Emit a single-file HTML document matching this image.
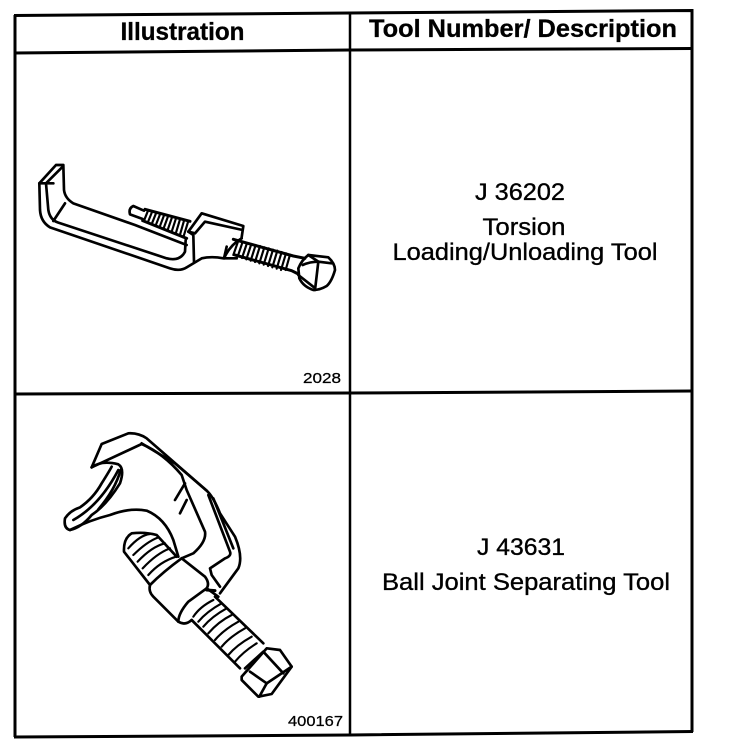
<!DOCTYPE html>
<html><head><meta charset="utf-8"><style>
html,body{margin:0;padding:0;background:#fff;width:736px;height:748px;overflow:hidden}
svg{display:block}
text{font-family:"Liberation Sans",sans-serif;fill:#000}
.l{fill:none;stroke:#000;stroke-linecap:round;stroke-linejoin:round}
</style></head><body>
<svg width="736" height="748" viewBox="0 0 736 748" xmlns="http://www.w3.org/2000/svg">
<rect width="736" height="748" fill="#fff"/>
<g fill="none" stroke="#000" stroke-width="3">
<path d="M15 15 L15 737"/>
<path d="M14 15.500 L350 13 L692 10.500 L692 732"/>
<path d="M14 53 L350 50 L692 48.500"/>
<path d="M350 12 L350 736" stroke-width="2.500"/>
<path d="M14 394 L350 393 L692 391"/>
<path d="M14 737 L350 735 L693 731.500"/>
</g>
<g text-anchor="middle">
<text x="182.500" y="40" font-size="25" font-weight="bold" stroke="#000" stroke-width=".3" textLength="124" lengthAdjust="spacingAndGlyphs">Illustration</text>
<text x="523" y="37" font-size="25" font-weight="bold" stroke="#000" stroke-width=".3" textLength="308" lengthAdjust="spacingAndGlyphs">Tool Number/ Description</text>
<g stroke="#000" stroke-width=".35" font-size="24">
<text x="520" y="200" textLength="90" lengthAdjust="spacingAndGlyphs">J 36202</text>
<text x="524" y="235" textLength="83" lengthAdjust="spacingAndGlyphs">Torsion</text>
<text x="525" y="260" textLength="265" lengthAdjust="spacingAndGlyphs">Loading/Unloading Tool</text>
<text x="521" y="555" textLength="88" lengthAdjust="spacingAndGlyphs">J 43631</text>
<text x="526" y="590" textLength="288" lengthAdjust="spacingAndGlyphs">Ball Joint Separating Tool</text>
</g>
</g>
<text x="322" y="383" font-size="15" stroke="#000" stroke-width=".25" text-anchor="middle" textLength="38" lengthAdjust="spacingAndGlyphs">2028</text>
<text x="315.500" y="726" font-size="15" stroke="#000" stroke-width=".25" text-anchor="middle" textLength="55" lengthAdjust="spacingAndGlyphs">400167</text>

<!-- C clamp tool -->
<g transform="translate(20,150) scale(.33333)">
<g class="l" stroke-width="8">
<path d="M58 100 L60 180 Q62 215 90 232 L450 355 Q480 365 500 352 L545 325 Q575 318 610 325"/>
<path d="M58 100 L108 45 L130 45 L132 120 Q135 145 160 160 L345 225 L500 285"/>
<path d="M58 100 L78 100 L128 50"/>
<path d="M78 100 L100 100"/>
<path d="M78 100 L85 180 Q90 210 115 218 L440 325 Q480 335 495 305 L497 270"/>
<path d="M100 213 L135 160"/>
<path d="M505 245 L545 190 L670 228 L665 262"/>
<path d="M505 245 L525 250 L555 215 L668 240"/>
<path d="M505 245 L520 255 L522 335"/>
<path d="M620 290 L612 325 L650 325"/>
<path d="M612 325 Q630 285 665 265"/>
<path d="M372 182 L340 168 Q325 175 330 193 L368 207"/>
<path d="M375 178 L510 214" stroke-width="9"/>
<path d="M368 212 L500 265" stroke-width="9"/>
<path d="M640 268 L820 318 L855 325" stroke-width="9"/>
<path d="M645 315 L815 362 L835 372" stroke-width="9"/>
<path d="M835 355 Q845 330 865 315 L925 322 Q945 340 945 360 Q935 395 920 408 Q900 420 880 420 Q850 410 838 385 Z"/>
<path d="M848 345 Q870 335 895 335 L935 340"/>
<path d="M865 315 L895 335 L885 420"/>
<path d="M835 375 L882 412"/>
</g>
<g class="l" stroke-width="6.500">
<path d="M384 182 L372 212M396 186 L384 216M408 190 L396 220M420 193 L408 224M432 196 L420 228M444 199 L432 232M456 202 L444 237M468 205 L456 242M480 208 L468 248M492 212 L480 254M504 216 L490 262"/>
<path d="M655 272 L640 315M668 275 L653 320M681 279 L666 324M694 282 L679 328M707 285 L692 332M720 288 L705 336M733 292 L718 340M746 295 L731 344M759 299 L744 348M772 302 L757 352M785 306 L770 356M798 310 L783 360M810 314 L797 360"/>
</g>
</g>

<!-- Ball joint tool -->
<g transform="translate(50,420) scale(.33333)">
<g class="l" stroke-width="8">
<path d="M125 142 L155 72 L235 40 Q265 38 290 55 L470 212 Q490 230 510 280 L555 350 Q580 410 565 445 L510 520"/>
<path d="M125 142 Q155 120 205 133 Q225 145 210 190 Q170 255 125 285 Q95 322 60 330 Q40 325 45 295 Q60 272 90 262 Q130 235 155 190 Q180 150 185 140"/>
<path d="M125 142 L275 72 Q340 100 395 165 L410 210 L465 335 Q470 365 430 400 L395 415"/>
<path d="M275 70 L375 130 L470 212"/>
<path d="M405 190 L375 240"/>
<path d="M410 240 L390 280"/>
<path d="M60 330 Q120 300 180 285 Q240 262 290 272 Q345 295 370 360 L385 410"/>
<path d="M70 300 Q150 255 205 150"/>
<path d="M145 268 Q195 210 212 150"/>
<path d="M475 225 L540 395 Q545 408 525 415 L480 445 L485 465 L510 500"/>
<path d="M490 235 L550 385"/>
<path d="M395 415 L465 470 Q480 490 470 505 L415 545 Q385 580 385 605"/>
<path d="M395 415 Q340 455 300 495 Q295 515 310 530 L385 605 Q405 618 425 600"/>
<path d="M470 505 L505 530"/>
<path d="M470 510 L495 512" stroke-width="9"/>
<path d="M300 495 L222 395 Q220 355 245 340 Q285 335 320 345 L380 410"/>
<path d="M495 530 L640 670"/>
<path d="M425 600 L570 745"/>
<path d="M575 770 L650 685 L690 690 L725 740 L665 822 L625 830 L575 780Z"/>
<path d="M585 745 L640 695 L700 760"/>
<path d="M650 790 L725 740"/>
<path d="M650 790 L600 755"/>
<path d="M650 790 L628 830"/>
</g>
<g class="l" stroke-width="6.500">
<path d="M235 385 Q270 345 300 342M250 405 Q290 365 325 352M263 425 Q305 380 345 370M278 445 Q320 400 360 385M295 465 Q330 425 378 410"/>
<path d="M430 590 Q450 560 490 540M445 605 Q470 575 515 550M460 620 Q485 590 530 565M475 640 Q505 605 545 585M495 660 Q520 630 565 605M515 680 Q540 650 585 625M535 705 Q560 675 605 650M555 725 Q580 695 620 670"/>
</g>
</g>
</svg>
</body></html>
